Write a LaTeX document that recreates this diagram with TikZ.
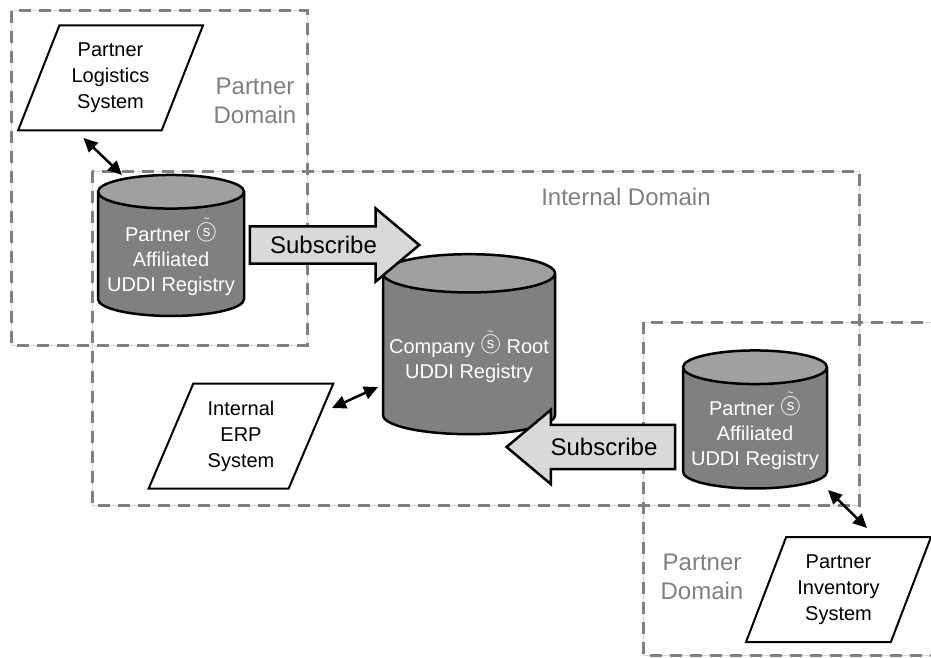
\documentclass[tikz,border=0pt]{standalone}
\usepackage{fontspec}
\setmainfont{Liberation Sans}
\usetikzlibrary{shapes,arrows,arrows.meta,calc}

\definecolor{domgray}{RGB}{128,128,128}
\definecolor{domlight}{RGB}{215,215,215}
\definecolor{cylbody}{RGB}{128,128,128}
\definecolor{cyltop}{RGB}{160,160,160}
\definecolor{arrowfill}{RGB}{217,217,217}

% the odd mark printed in place of the apostrophe
\newcommand{\oddmark}{$\tilde{\mbox{\ooalign{\raisebox{4pt}{\fontsize{20}{20}\selectfont$\bigcirc$}\cr\hfil\raisebox{5pt}{\fontsize{15}{15}\selectfont s}\hfil\cr}}}$}

\begin{document}
\begin{tikzpicture}[x=1pt, y=-1pt,
  domainbox/.style={draw=domgray, line width=3pt, dash pattern=on 12pt off 8pt,
    preaction={draw=domlight, line width=1pt, solid}},
  domlabel/.style={text=domgray, font=\fontsize{24}{29}\selectfont, align=center},
  sys/.style={draw, line width=2pt, trapezium, trapezium left angle=66, trapezium right angle=114,
    trapezium stretches=true, minimum width=185pt, minimum height=105pt, align=center,
    font=\fontsize{20}{26}\selectfont},
  reg/.style={draw, line width=2.5pt, cylinder, shape border rotate=90, aspect=0.25,
    cylinder uses custom fill, cylinder body fill=cylbody, cylinder end fill=cyltop,
    text=white, align=center, font=\fontsize{20}{25}\selectfont},
  sub/.style={draw, line width=2.5pt, fill=arrowfill, single arrow, single arrow tip angle=80,
    font=\fontsize{24}{29}\selectfont},
  link/.style={{Triangle[length=14pt,width=13pt]}-{Triangle[length=14pt,width=13pt]}, line width=2.5pt}]

\useasboundingbox (0,0) rectangle (931,658);
\clip (0,0) rectangle (931,658);

\draw[domainbox] (11,11) rectangle (307,345);
\draw[domainbox] (92,171) rectangle (859,505);
\draw[domainbox] (643,322) rectangle (950,655);

\node[domlabel] (pdomA) at (255,101) {Partner\\Domain};
\node[domlabel] (idom) at (626,197) {Internal Domain};
\node[domlabel] (pdomB) at (702,577) {Partner\\Domain};

\node[sys] (plog) at (110.5,78) {Partner\\Logistics\\System};
\node[sys] (erp) at (241,436) {Internal\\ERP\\System};
\node[sys] (pinv) at (838.5,589.5) {Partner\\Inventory\\System};

\node[reg, minimum width=146pt, minimum height=141pt] (lreg) at (171,257) {Partner \oddmark\\Affiliated\\UDDI Registry};
\node[reg, minimum width=172pt, minimum height=180pt, aspect=0.23] (root) at (469,357) {Company \oddmark{} Root\\UDDI Registry};
\node[reg, minimum width=144pt, minimum height=138pt] (rreg) at (755,431) {Partner \oddmark\\Affiliated\\UDDI Registry};

\node[sub, inner xsep=19pt, inner ysep=8.5pt, single arrow head extend=18pt] (subA) at (323.5,245) {Subscribe};
\node[sub, inner xsep=16.5pt, inner ysep=12pt, single arrow head extend=15pt, shape border rotate=180] (subB) at (604,447) {Subscribe};

\draw[link] ($(plog)+(-27,60)$) -- ($(lreg)+(-49,-82)$);
\draw[link] ($(erp)+(91,-28)$) -- ($(root)+(-91,30)$);
\draw[link] ($(rreg)+(73,59)$) -- ($(pinv)+(28.5,-61.5)$);

\end{tikzpicture}
\end{document}
